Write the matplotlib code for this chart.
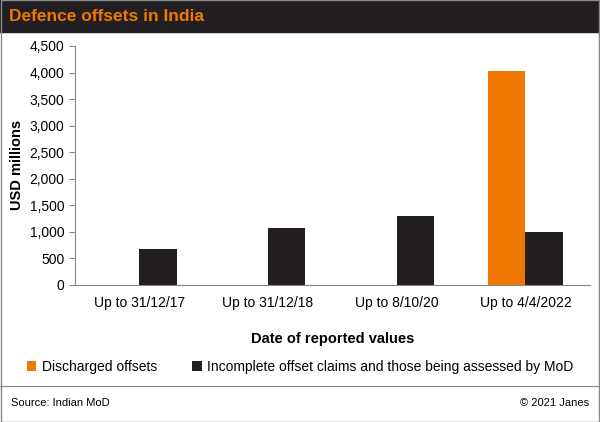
import matplotlib.pyplot as plt
import numpy as np
from matplotlib.patches import Rectangle

categories = ["Up to 31/12/17", "Up to 31/12/18", "Up to 8/10/20", "Up to 4/4/2022"]
discharged = [0, 0, 0, 4030]
incomplete = [670, 1070, 1290, 1000]

ORANGE = "#F07800"
BLACK = "#231F20"

plt.rcParams["font.family"] = ["Liberation Sans", "DejaVu Sans"]

fig = plt.figure(figsize=(6, 4.22), dpi=100)
fig.patches.append(Rectangle((0, 0.925), 1, 0.075, transform=fig.transFigure,
                             color=BLACK, zorder=0))
fig.patches.append(Rectangle((0.001, 0.001), 0.998, 0.998, transform=fig.transFigure,
                             fill=False, edgecolor="#888888", lw=1))
fig.text(0.015, 0.962, "Defence offsets in India", color=ORANGE, fontsize=12.5,
         fontweight="bold", va="center")

ax = fig.add_axes([0.125, 0.325, 0.858, 0.566])
x = np.arange(len(categories))
w = 0.29
ax.bar(x - w / 2, discharged, w, color=ORANGE, label="Discharged offsets")
ax.bar(x + w / 2, incomplete, w, color=BLACK,
       label="Incomplete offset claims and those being assessed by MoD")
ax.set_xlim(-0.5, 3.5)
ax.set_ylim(0, 4500)
ax.set_yticks(range(0, 4501, 500))
ax.set_yticklabels([f"{v:,}" for v in range(0, 4501, 500)], fontsize=10)
ax.set_xticks(x)
ax.set_xticklabels(categories, fontsize=10)
ax.tick_params(axis="x", length=0, pad=8)
ax.tick_params(axis="y", length=4, color="#888888")
for s in ["top", "right"]:
    ax.spines[s].set_visible(False)
for s in ["left", "bottom"]:
    ax.spines[s].set_color("#888888")
ax.set_ylabel("USD millions", fontsize=10.5, fontweight="bold")
ax.set_xlabel("Date of reported values", fontsize=10.5, fontweight="bold", labelpad=16)

fig.legend(loc="center", bbox_to_anchor=(0.5, 0.13), ncol=2, frameon=False,
           fontsize=10, handlelength=0.7, handleheight=0.7, columnspacing=2.5,
           handletextpad=0.4)

fig.lines.append(plt.Line2D([0, 1], [0.085, 0.085], transform=fig.transFigure,
                            color="#888888", lw=0.8))
fig.text(0.018, 0.045, "Source: Indian MoD", fontsize=8, va="center")
fig.text(0.982, 0.045, "© 2021 Janes", fontsize=8, va="center", ha="right")

fig.savefig("out.png", dpi=100)
